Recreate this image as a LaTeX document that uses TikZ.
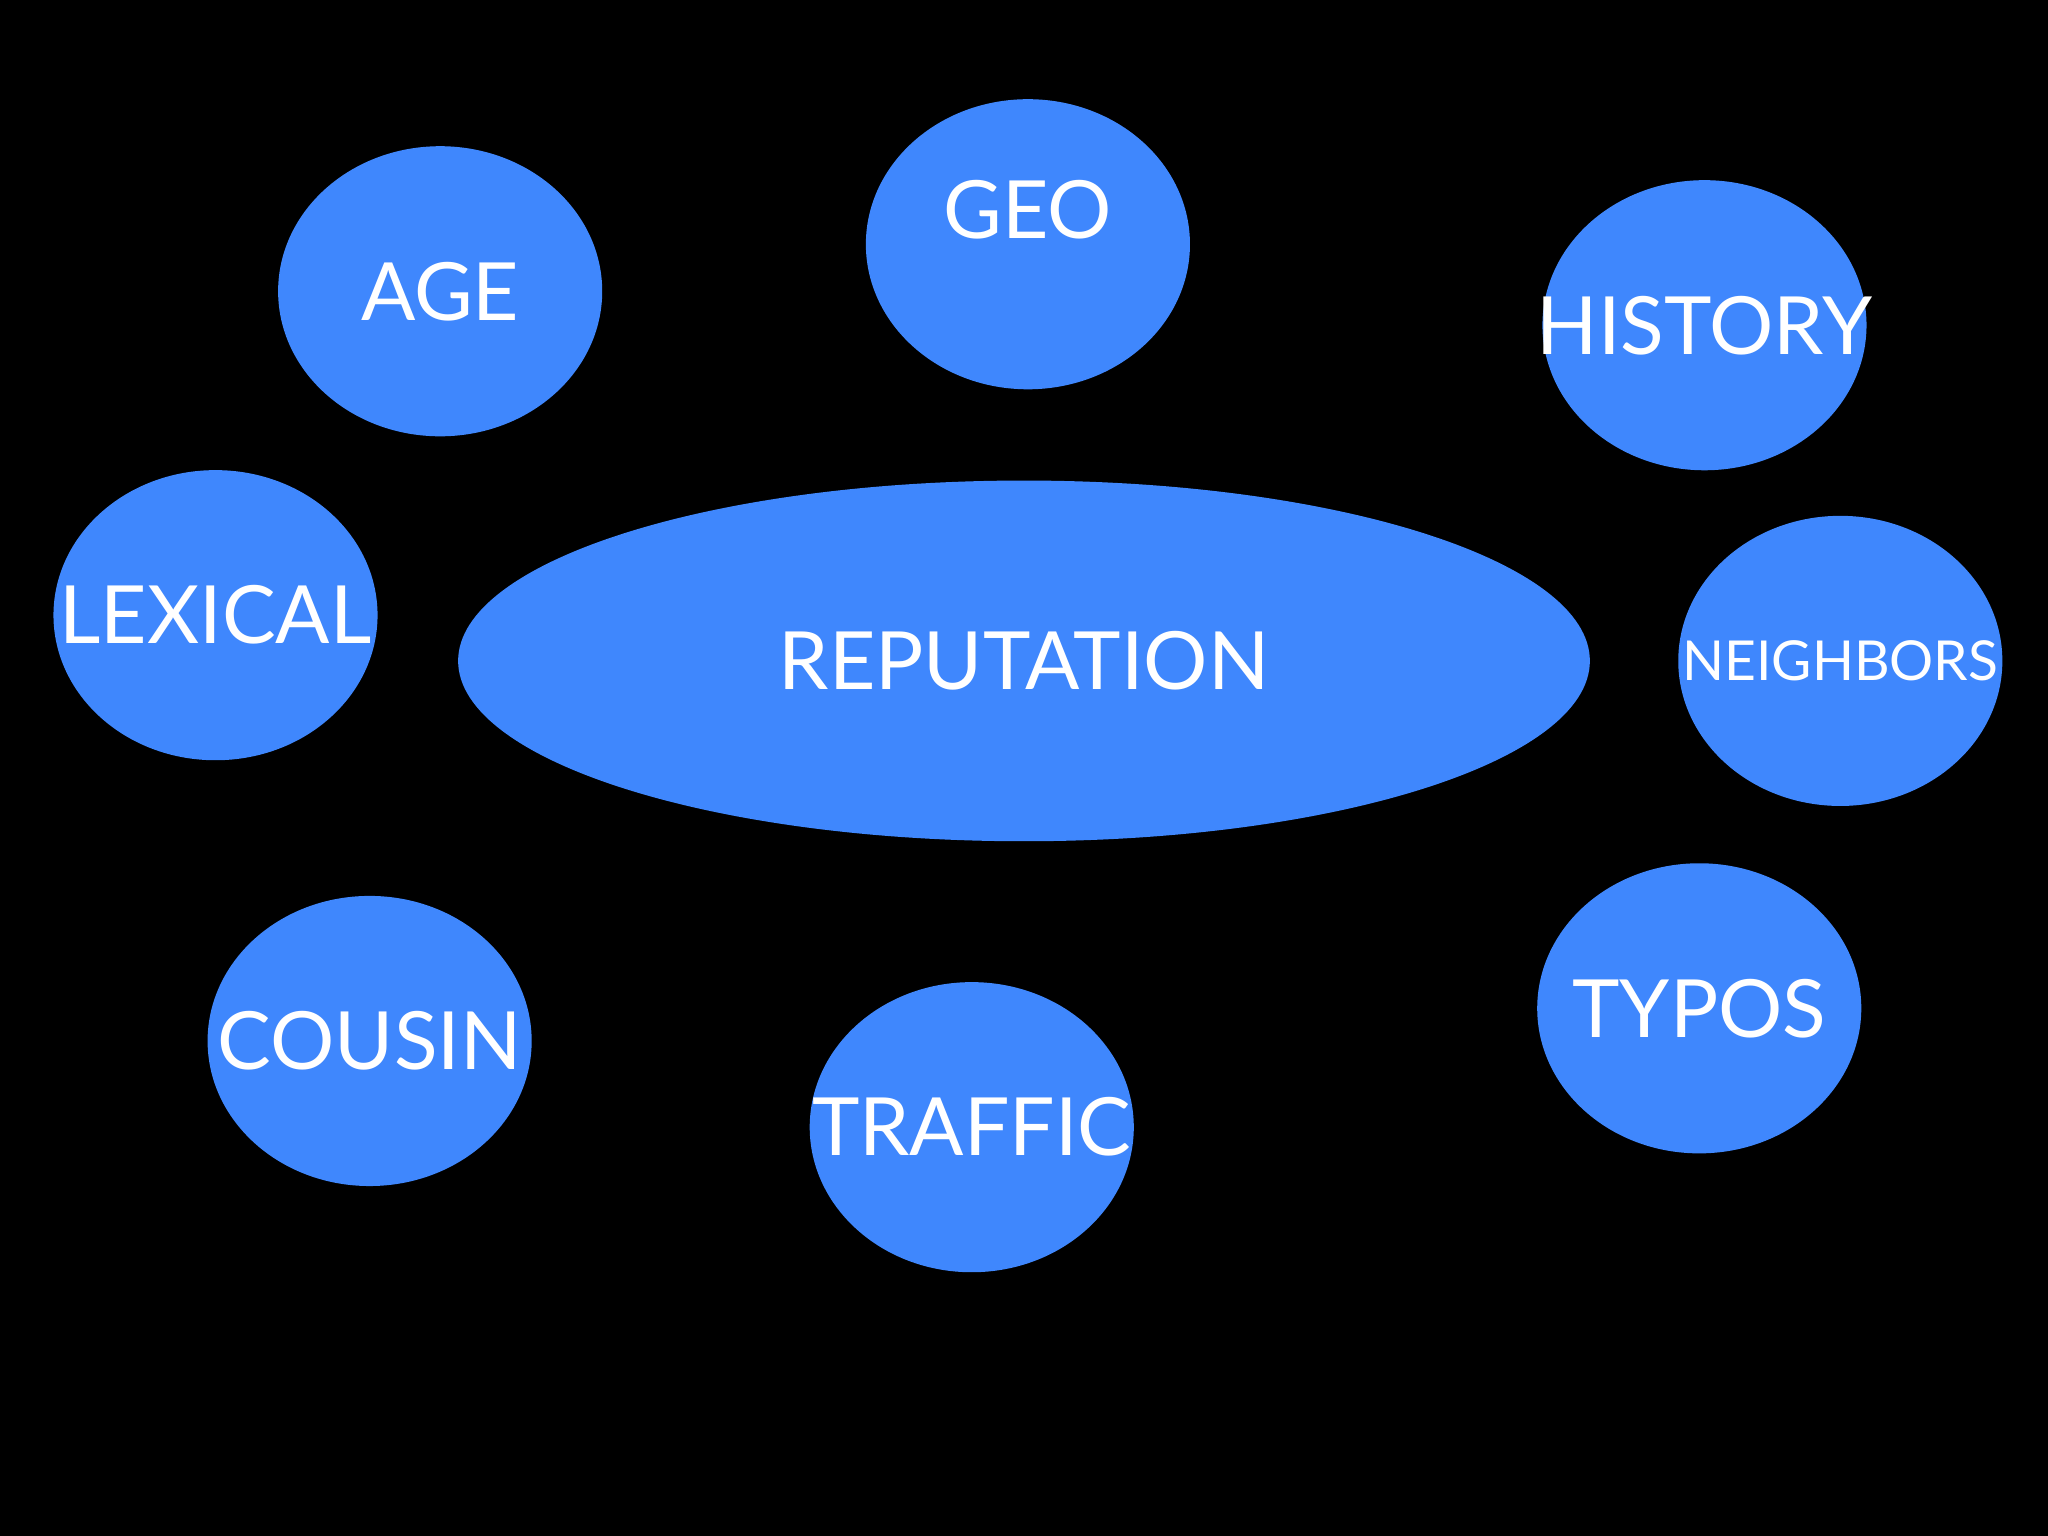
\documentclass[tikz,border=0pt]{standalone}
\usepackage{fontspec}
\setmainfont{Lato}
\usetikzlibrary{shapes.geometric}
\definecolor{bub}{HTML}{3F87FD}
\newcommand{\zb}[1]{\makebox[0pt]{#1}}
\begin{document}
\begin{tikzpicture}[x=0.01cm,y=-0.01cm,
  bubble/.style={ellipse,fill=bub,minimum width=2.48cm,minimum height=2.22cm,inner sep=0pt,text=white,font=\fontsize{17.5}{21}\selectfont}]
\fill[black] (0,0) rectangle (1568,1176);
\useasboundingbox (0,0) rectangle (1568,1176);
\node[bubble] (age) at (337,223) {\zb{AGE}};
\node[bubble] (geo) at (787,187) {\zb{\raisebox{15pt}{GEO}}};
\node[bubble] (history) at (1305,249) {\zb{HISTORY}};
\node[bubble] (lexical) at (165,471) {\zb{LEXICAL}};
\node[bubble,minimum width=8.66cm,minimum height=2.76cm] (rep) at (784,506) {\zb{REPUTATION}};
\node[bubble,font=\fontsize{12}{15}\selectfont] (neighbors) at (1409,506) {\zb{NEIGHBORS}};
\node[bubble] (cousin) at (283,797) {\zb{COUSIN}};
\node[bubble] (traffic) at (744,863) {\zb{TRAFFIC}};
\node[bubble] (typos) at (1301,772) {\zb{TYPOS}};
\end{tikzpicture}
\end{document}
